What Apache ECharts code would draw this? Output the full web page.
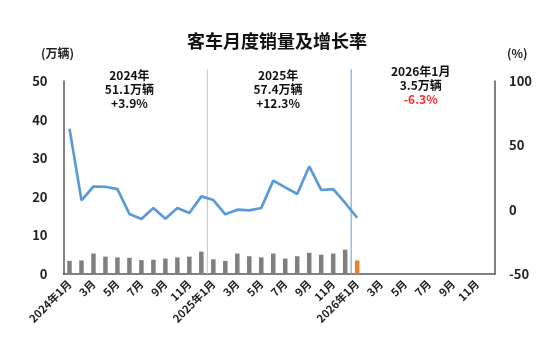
<!DOCTYPE html>
<html><head><meta charset="utf-8">
<script src="https://cdn.jsdelivr.net/npm/echarts@6/dist/echarts.min.js"></script>
<style>html,body{margin:0;padding:0;background:#fff}#c{width:554px;height:338px}</style>
</head><body><div id="c"></div>
<script>
const categories = [];
const years = ['2024','2025','2026'];
years.forEach(y => { for (let m = 1; m <= 12; m++) categories.push(y + '年' + m + '月'); });
const sales = [3.4,3.5,5.3,4.5,4.3,4.2,3.6,3.7,4.0,4.3,4.5,5.8,
               3.8,3.4,5.3,4.6,4.3,5.3,4.0,4.6,5.5,5.0,5.3,6.3,
               3.5];
const growth = [63,7.2,18,17.8,16,-3.3,-7.2,1.3,-7,1.3,-2.6,10.3,
                7.5,-3.6,0,-0.5,1.3,22.6,17.3,12.2,33.6,15.3,16,5.2,
                -6.3];
const leftTicks = [0,50,10];
const rightTicks = [-50,100,50];
const separators = [12,24];
const notes = [
  {lines:['2024年','51.1万辆','+3.9%'], colors:['#111','#111','#111']},
  {lines:['2025年','57.4万辆','+12.3%'], colors:['#111','#111','#111']},
  {lines:['2026年1月','3.5万辆','-6.3%'], colors:['#111','#111','#ff2a2a']}
];

const chart = echarts.init(document.getElementById('c'));
const barData = sales.map((v,i) => i === 24 ? {value:v, itemStyle:{color:'#ed7d31'}} : v);
const font = '"Noto Sans CJK SC", "Noto Sans", sans-serif';
const sepColors = ['#a8cbea','#5b9bd5'];
const sepSeries = separators.map((s,k) => ({
  type:'line', xAxisIndex:1, yAxisIndex:0, data:[[s,0],[s,53]], symbol:'none', silent:true,
  clip:false, lineStyle:{color:sepColors[k], width:1}, z:1
}));
chart.setOption({
  animation:false,
  textStyle:{fontFamily:font},
  title:{text:'客车月度销量及增长率', left:'center', top:27,
    textStyle:{fontSize:18, fontWeight:'bold', color:'#111', fontFamily:font}},
  grid:{left:63.5, right:59, top:81, bottom:64},
  xAxis:[{
    type:'category', data:categories,
    axisLine:{lineStyle:{color:'#595959', width:1.5}},
    axisTick:{show:false},
    axisLabel:{interval:1, rotate:45, fontSize:11, fontWeight:'bold', color:'#222', margin:8,
      formatter:(v)=>{ const m = v.match(/(\d+)年(\d+)月/); return m[2]==='1' ? v : m[2]+'月'; }}
  },{
    type:'value', min:0, max:36, show:false
  }],
  yAxis:[{
    type:'value', min:leftTicks[0], max:leftTicks[1], interval:leftTicks[2],
    name:'(万辆)', nameLocation:'end', nameGap:22,
    nameTextStyle:{fontSize:12, fontWeight:'bold', color:'#222', align:'center', padding:[0,0,0,-12]},
    axisLine:{show:true, lineStyle:{color:'#595959', width:1.5}}, axisTick:{show:false},
    splitLine:{show:false},
    axisLabel:{fontSize:13, fontWeight:'bold', color:'#222', margin:16}
  },{
    type:'value', min:rightTicks[0], max:rightTicks[1], interval:rightTicks[2],
    name:'(%)', nameLocation:'end', nameGap:22,
    nameTextStyle:{fontSize:12, fontWeight:'bold', color:'#222', align:'left', padding:[0,0,0,12]},
    axisLine:{show:true, lineStyle:{color:'#595959', width:1.5}}, axisTick:{show:false},
    splitLine:{show:false},
    axisLabel:{fontSize:13, fontWeight:'bold', color:'#222', margin:14}
  }],
  series:[
    {type:'bar', data:barData, yAxisIndex:0, barWidth:4.5, itemStyle:{color:'#7f7f7f'}, z:2},
    {type:'line', data:growth, yAxisIndex:1, symbol:'none', lineStyle:{color:'#5b9bd5', width:2.7}, z:3},
    ...sepSeries
  ]
});

// annotation texts
const centers = [5.5, 17.9, 29.8];
const tops = [69, 69, 65];
const gfx = [];
notes.forEach((n,k) => {
  const x = chart.convertToPixel({xAxisIndex:1}, centers[k]);
  n.lines.forEach((t,j) => {
    gfx.push({type:'text', x:x, y:tops[k] + j*14,
      style:{text:t, fill:n.colors[j], font:'bold 12px ' + font, textAlign:'center', textVerticalAlign:'top'}});
  });
});
chart.setOption({graphic:gfx});
</script></body></html>
